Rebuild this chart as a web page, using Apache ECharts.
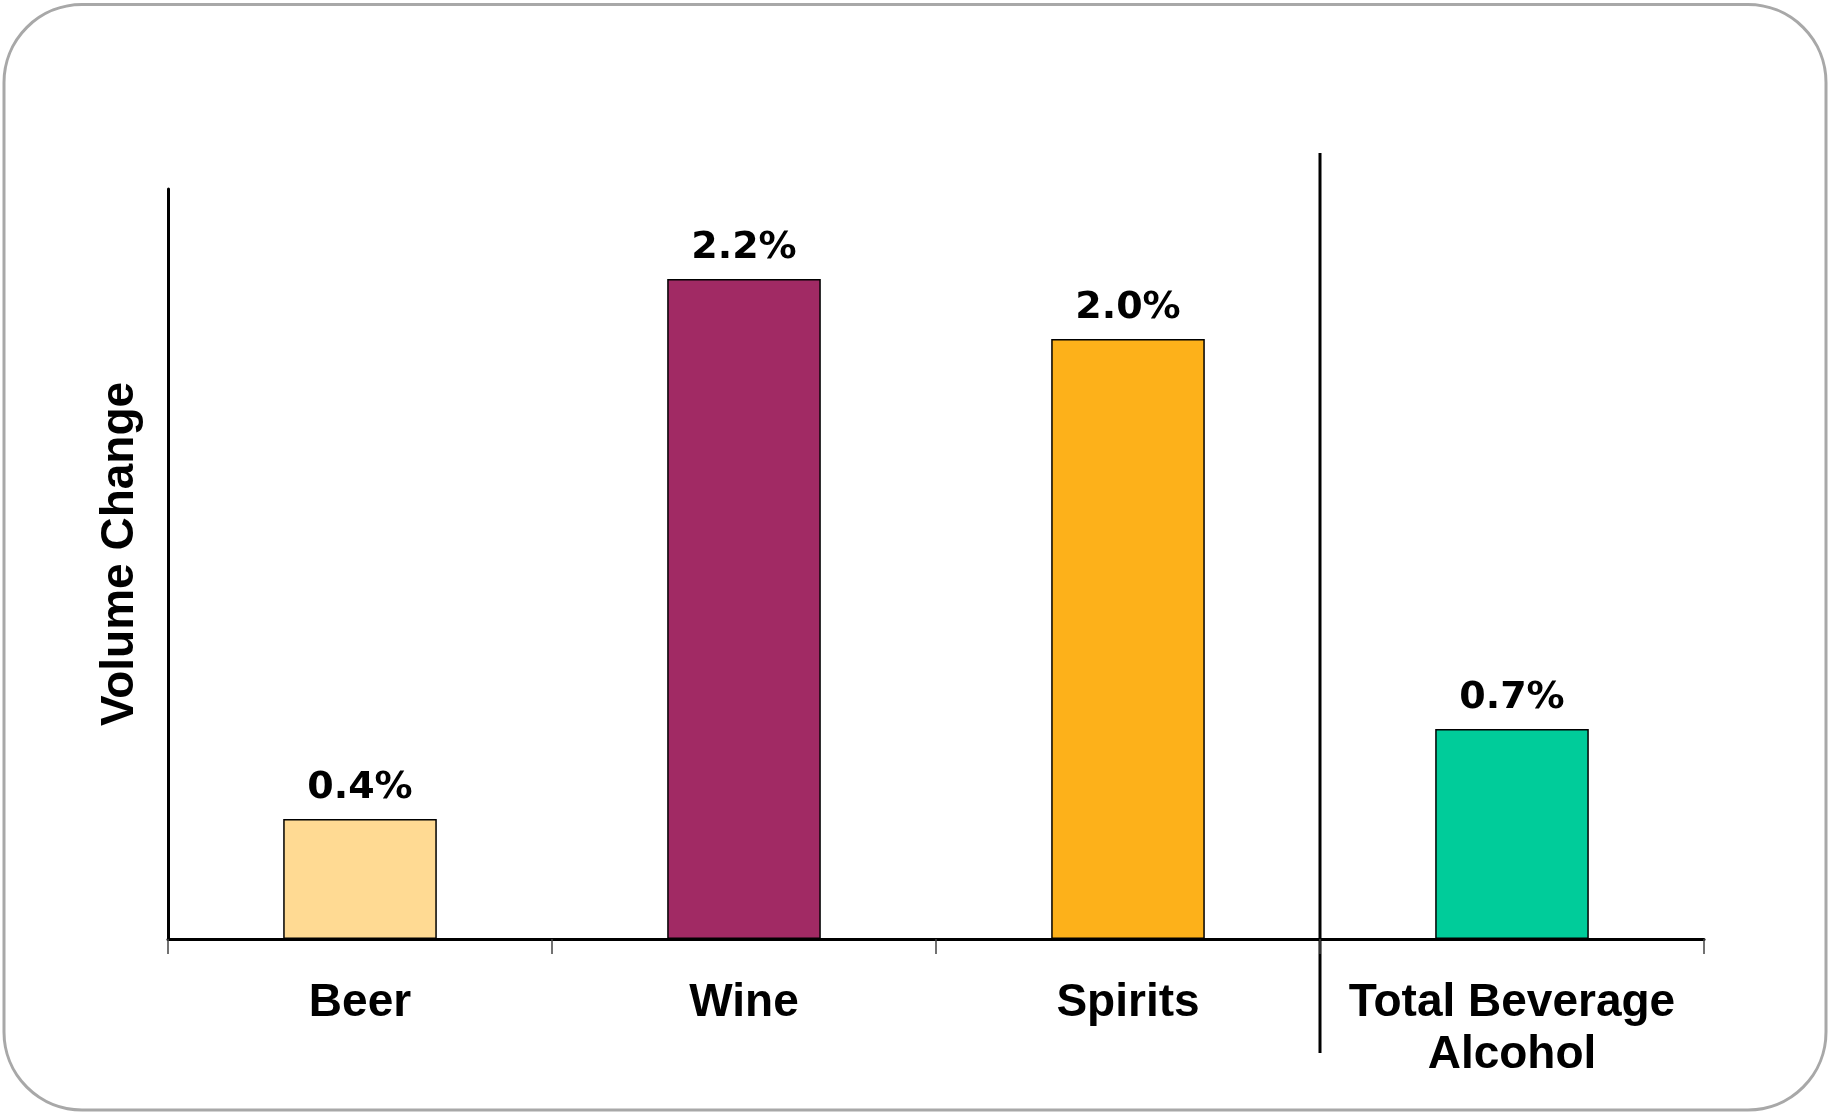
<!DOCTYPE html>
<html>
<head>
<meta charset="utf-8">
<script src="https://cdn.jsdelivr.net/npm/echarts@6/dist/echarts.min.js"></script>
<style>
  html, body { margin: 0; padding: 0; background: #ffffff; }
  #chart { width: 1828px; height: 1112px; }
</style>
</head>
<body>
<div id="chart"></div>
<script>
// Volume change by beverage category (percent)
const categories = ['Beer', 'Wine', 'Spirits', 'Total Beverage\nAlcohol'];
const volumeChange = [0.4, 2.2, 2.0, 0.7];
const barColors = ['#FFDA93', '#A12A64', '#FDB11A', '#00CC9A'];
const yAxisTitle = 'Volume Change';

const chart = echarts.init(document.getElementById('chart'));

const option = {
  backgroundColor: '#ffffff',
  animation: false,
  grid: { left: 168, right: 124, top: 189, bottom: 173, containLabel: false },
  xAxis: {
    type: 'category',
    data: categories,
    boundaryGap: true,
    axisLine: { show: true, lineStyle: { color: '#000000', width: 3 } },
    axisTick: { show: true, length: 15, lineStyle: { color: '#444444', width: 1.5 } },
    axisLabel: {
      interval: 0,
      margin: 38,
      color: '#000000',
      fontFamily: 'Liberation Sans',
      fontWeight: 'bold',
      fontSize: 46,
      lineHeight: 52
    },
    splitLine: { show: false }
  },
  yAxis: {
    type: 'value',
    min: 0,
    max: 2.5,
    axisLine: { show: true, lineStyle: { color: '#000000', width: 3 } },
    axisTick: { show: false },
    axisLabel: { show: false },
    splitLine: { show: false }
  },
  series: [{
    type: 'bar',
    barWidth: '40%',
    data: volumeChange.map((v, i) => ({
      value: v,
      itemStyle: { color: barColors[i] }
    })),
    itemStyle: { borderColor: '#000000', borderWidth: 1.5 },
    label: {
      show: true,
      position: 'top',
      distance: 12,
      color: '#000000',
      fontFamily: 'DejaVu Sans',
      fontWeight: 'bold',
      fontSize: 38,
      lineHeight: 38,
      formatter: p => p.value.toFixed(1) + '%'
    }
  }]
};

chart.setOption(option);

// Divider between the individual categories and the total, plus the panel frame
const c2 = chart.convertToPixel({ xAxisIndex: 0 }, categories[2]);
const c3 = chart.convertToPixel({ xAxisIndex: 0 }, categories[3]);
const dividerX = (c2 + c3) / 2;

chart.setOption({
  graphic: [
    {
      type: 'rect',
      shape: { x: 4, y: 4.5, width: 1822, height: 1105.5, r: 78 },
      style: { fill: 'none', stroke: '#a8a8a8', lineWidth: 3 },
      silent: true,
      z: -1
    },
    {
      type: 'line',
      shape: { x1: dividerX, y1: 153, x2: dividerX, y2: 1053 },
      style: { stroke: '#000000', lineWidth: 3 },
      silent: true
    },
    {
      type: 'text',
      x: 120,
      y: 554,
      rotation: Math.PI / 2,
      style: {
        text: yAxisTitle,
        fill: '#000000',
        font: 'bold 46px "Liberation Sans"',
        align: 'center',
        verticalAlign: 'middle'
      },
      silent: true
    }
  ]
});
</script>
</body>
</html>
